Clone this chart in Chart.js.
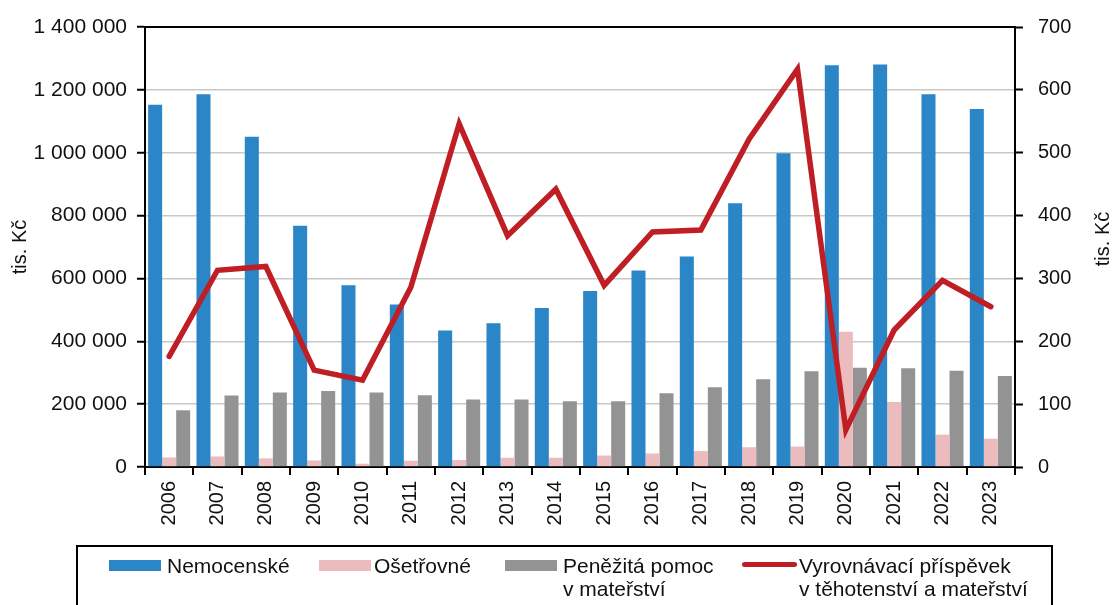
<!DOCTYPE html>
<html>
<head>
<meta charset="utf-8">
<script src="https://cdn.jsdelivr.net/npm/chart.js@4/dist/chart.umd.min.js"></script>
<style>
  html, body { margin: 0; padding: 0; background: #fff; }
  #wrap { position: relative; width: 1115px; height: 605px; overflow: hidden; }
  #legenda { position: absolute; left: 76px; top: 545px; width: 977px; height: 90px;
    border: 2px solid #000; box-sizing: border-box; font: 21px "Liberation Sans", Arial, sans-serif; color: #111; }
  .znacka { position: absolute; }
  .text { position: absolute; top: 0; line-height: 23px; white-space: pre; }
</style>
</head>
<body>
<div id="wrap">
  <canvas id="grafica" width="1115" height="605"></canvas>
  <div id="legenda"></div>
</div>
<script>
// roky a hodnoty (tis. Kč)
var roky = ['2006','2007','2008','2009','2010','2011','2012','2013','2014','2015','2016','2017','2018','2019','2020','2021','2022','2023'];
var nemocenske = [1153000, 1186000, 1051000, 768000, 578000, 517000, 434000, 457000, 506000, 560000, 625000, 670000, 839000, 998000, 1278000, 1281000, 1186000, 1139000];
var osetrovne = [30500, 33500, 27500, 21000, 10500, 20000, 22000, 29500, 29500, 36500, 43000, 50500, 63000, 65000, 430000, 206500, 103000, 90000];
var penezitaPomoc = [180500, 227500, 237000, 242000, 237000, 228500, 215000, 215000, 209500, 209500, 235000, 253500, 279000, 305000, 315500, 314500, 306000, 289500];
var vyrovnavaci = [176, 313, 319, 154, 138, 286, 546, 368, 442, 289, 374, 377, 522, 633, 59, 218, 297, 255];

var nazvy = ['Nemocenské', 'Ošetřovné', 'Peněžitá pomoc\nv mateřství', 'Vyrovnávací příspěvek\nv těhotenství a mateřství'];
var barvy = ['#2a86c6', '#ebbbbe', '#939393', '#be1e24'];

var font = '"Liberation Sans", Arial, sans-serif';
Chart.defaults.font.family = font;
Chart.defaults.font.size = 20;
Chart.defaults.color = '#111';

function mezery(v) {
  return String(v).replace(/\B(?=(\d{3})+(?!\d))/g, ' ');
}

// ramecek nahore + pravy popis osy
var doplnky = {
  id: 'doplnky',
  afterDraw: function(chart) {
    var ctx = chart.ctx;
    var a = chart.chartArea;
    ctx.save();
    ctx.strokeStyle = '#000';
    ctx.lineWidth = 2;
    ctx.beginPath();
    ctx.moveTo(a.left, a.top);
    ctx.lineTo(a.right, a.top);
    ctx.stroke();
    ctx.translate(1103, (a.top + a.bottom) / 2 - 8);
    ctx.rotate(-Math.PI / 2);
    ctx.font = '20px ' + font;
    ctx.fillStyle = '#111';
    ctx.textAlign = 'center';
    ctx.textBaseline = 'middle';
    ctx.fillText('tis. Kč', 0, 0);
    ctx.restore();
  }
};

var ctx = document.getElementById('grafica').getContext('2d');
var chart = new Chart(ctx, {
  type: 'bar',
  data: {
    labels: roky,
    datasets: [
      { type: 'line', label: nazvy[3], data: vyrovnavaci, yAxisID: 'y2', order: 0,
        borderColor: barvy[3], borderWidth: 5.5, pointRadius: 0, tension: 0,
        borderCapStyle: 'round', borderJoinStyle: 'miter', fill: false },
      { label: nazvy[0], data: nemocenske, backgroundColor: barvy[0], yAxisID: 'y', order: 1 },
      { label: nazvy[1], data: osetrovne, backgroundColor: barvy[1], yAxisID: 'y', order: 1 },
      { label: nazvy[2], data: penezitaPomoc, backgroundColor: barvy[2], yAxisID: 'y', order: 1 }
    ]
  },
  options: {
    responsive: false,
    animation: false,
    layout: { padding: { top: 22, left: 0, right: 0, bottom: 0 } },
    datasets: { bar: { categoryPercentage: 0.87, barPercentage: 1.0 } },
    plugins: { legend: { display: false }, tooltip: { enabled: false } },
    scales: {
      x: {
        afterFit: function(s) { s.height = 138; },
        grid: { offset: true, drawOnChartArea: false, tickLength: 8, tickColor: '#000', lineWidth: 2 },
        border: { color: '#000', width: 2 },
        ticks: { maxRotation: 90, minRotation: 90, padding: 6, autoSkip: false }
      },
      y: {
        position: 'left',
        min: 0, max: 1400000,
        afterFit: function(s) { s.width = 145; },
        grid: { color: '#c8c8c8', lineWidth: 1.5, tickLength: 8, tickColor: '#000', tickWidth: 2 },
        border: { color: '#000', width: 2 },
        ticks: { stepSize: 200000, padding: 10, font: { size: 21 }, callback: function(v) { return mezery(v); } },
        title: { display: true, text: 'tis. Kč', padding: { top: 8, bottom: 0 } }
      },
      y2: {
        position: 'right',
        min: 0, max: 700,
        afterFit: function(s) { s.width = 100; },
        grid: { drawOnChartArea: false, tickLength: 8, tickColor: '#000', tickWidth: 2 },
        border: { color: '#000', width: 2 },
        ticks: { stepSize: 100, padding: 15 }
      }
    }
  },
  plugins: [doplnky]
});

// legenda
var pozice = [
  { znacka: 31, text: 89, typ: 'box' },
  { znacka: 241, text: 296, typ: 'box' },
  { znacka: 427, text: 485, typ: 'box' },
  { znacka: 664, text: 721, typ: 'line' }
];
var legenda = document.getElementById('legenda');
for (var i = 0; i < nazvy.length; i++) {
  var p = pozice[i];
  var z = document.createElement('div');
  z.className = 'znacka';
  z.style.left = p.znacka + 'px';
  z.style.background = barvy[i];
  if (p.typ === 'box') {
    z.style.top = '13px'; z.style.width = '52px'; z.style.height = '11px';
  } else {
    z.style.top = '15px'; z.style.width = '55px'; z.style.height = '5px'; z.style.borderRadius = '3px';
  }
  legenda.appendChild(z);
  var t = document.createElement('div');
  t.className = 'text';
  t.style.left = p.text + 'px';
  t.style.top = '7px';
  t.textContent = nazvy[i];
  legenda.appendChild(t);
}
</script>
</body>
</html>
